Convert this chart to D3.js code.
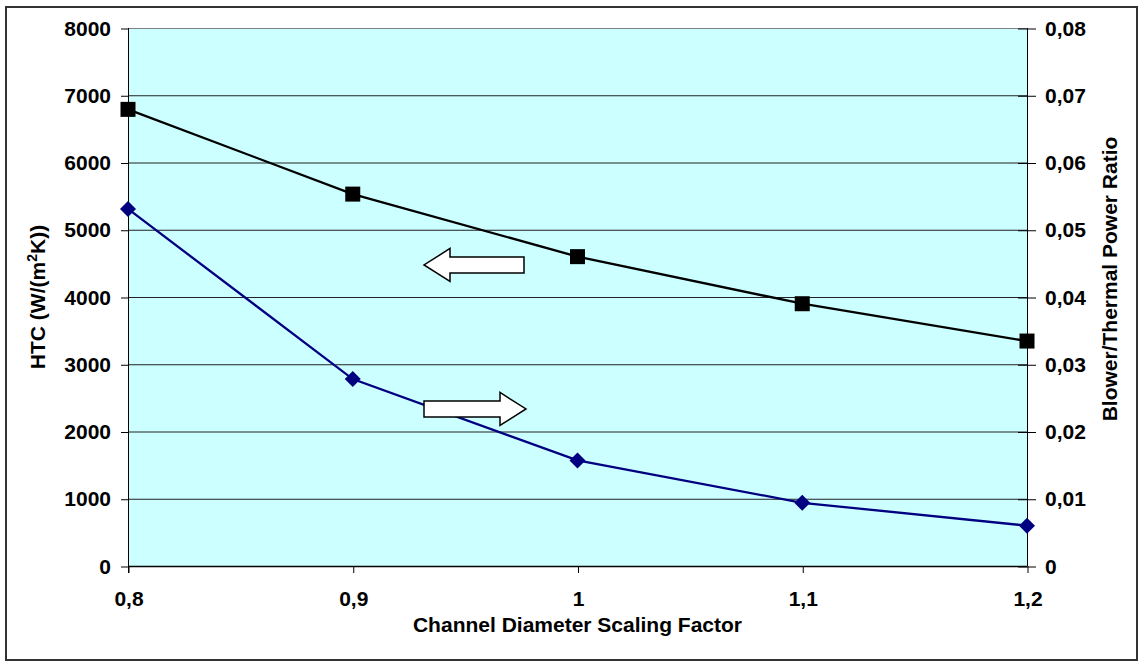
<!DOCTYPE html>
<html>
<head>
<meta charset="utf-8">
<script src="https://cdn.jsdelivr.net/npm/d3@7/dist/d3.min.js"></script>
<style>
  html, body { margin: 0; padding: 0; background: #fff; }
  svg text { font-family: "Liberation Sans", Arial, sans-serif; font-weight: bold; fill: #000; }
</style>
</head>
<body>
<svg id="chart" width="1143" height="663"></svg>
<script>
// Channel diameter scaling factors (x)
const scaleFactors = [0.8, 0.9, 1.0, 1.1, 1.2];
// Heat transfer coefficient, W/(m²K) — left axis
const htcValues = [6790, 5530, 4600, 3900, 3345];
// Blower / thermal power ratio — right axis
const powerRatio = [0.0531, 0.0278, 0.0157, 0.0094, 0.0060];

const xTicks = [0.8, 0.9, 1.0, 1.1, 1.2];
const leftTicks = [0, 1000, 2000, 3000, 4000, 5000, 6000, 7000, 8000];
const rightTicks = [0, 0.01, 0.02, 0.03, 0.04, 0.05, 0.06, 0.07, 0.08];

const FS = "21px";
const svg = d3.select("#chart");
const plot = { left: 128, right: 1027, top: 28, bottom: 566 };

const x = d3.scaleLinear().domain([0.8, 1.2]).range([plot.left, plot.right]);
const yL = d3.scaleLinear().domain([0, 8000]).range([plot.bottom, plot.top]);
const yR = d3.scaleLinear().domain([0, 0.08]).range([plot.bottom, plot.top]);

const commaFmt = v => d3.format("")(+v.toFixed(2)).replace(".", ",");

// Outer chart frame
svg.append("rect")
  .attr("x", 6).attr("y", 7).attr("width", 1131).attr("height", 653)
  .attr("fill", "#fff").attr("stroke", "#333").attr("stroke-width", 2);

// Plot area background
svg.append("rect")
  .attr("x", plot.left).attr("y", plot.top)
  .attr("width", plot.right - plot.left).attr("height", plot.bottom - plot.top)
  .attr("fill", "#CCFFFF");

// Horizontal gridlines
svg.append("g").selectAll("line").data(leftTicks.filter(d => d > 0)).join("line")
  .attr("x1", plot.left).attr("x2", plot.right)
  .attr("y1", d => yL(d) + 0.5).attr("y2", d => yL(d) + 0.5)
  .attr("stroke", d => d === 8000 ? "#808080" : "#222").attr("stroke-width", 1);

// Left axis
const leftAxis = d3.axisLeft(yL).tickValues(leftTicks).tickSize(7).tickPadding(10)
  .tickFormat(d3.format("d"));
const gL = svg.append("g").attr("transform", `translate(${plot.left},0.5)`).call(leftAxis);
gL.select(".domain").remove();
gL.selectAll("line").attr("stroke", "#000");
gL.selectAll("text").style("font-size", FS);
svg.append("line").attr("x1", plot.left + 0.5).attr("x2", plot.left + 0.5)
  .attr("y1", plot.top).attr("y2", plot.bottom + 7).attr("stroke", "#000");

// Right axis (ticks cross the axis line)
const rightAxis = d3.axisRight(yR).tickValues(rightTicks).tickSize(9).tickPadding(9)
  .tickFormat(commaFmt);
const gR = svg.append("g").attr("transform", `translate(${plot.right},0.5)`).call(rightAxis);
gR.select(".domain").remove();
gR.selectAll(".tick line").attr("x1", -9).attr("stroke", "#000");
gR.selectAll("text").style("font-size", FS);
svg.append("line").attr("x1", plot.right + 0.5).attr("x2", plot.right + 0.5)
  .attr("y1", plot.top).attr("y2", plot.bottom).attr("stroke", "#000");

// Bottom axis
const bottomAxis = d3.axisBottom(x).tickValues(xTicks).tickSize(7).tickPadding(18)
  .tickFormat(commaFmt);
const gB = svg.append("g").attr("transform", `translate(0.5,${plot.bottom})`).call(bottomAxis);
gB.select(".domain").remove();
gB.selectAll("line").attr("stroke", "#000");
gB.selectAll("text").style("font-size", FS);
svg.append("line").attr("x1", plot.left).attr("x2", plot.right)
  .attr("y1", plot.bottom + 0.5).attr("y2", plot.bottom + 0.5).attr("stroke", "#000").attr("stroke-width", 1.5);

// Direction arrows pointing to the relevant axis
function arrowPath(x0, x1, yc, dir) {
  // x0: tail end, x1: tip; dir: -1 left, 1 right
  const bodyH = 8, headH = 16.5, headL = 26;
  const hb = x1 - dir * headL;
  return `M${x0},${yc - bodyH} L${hb},${yc - bodyH} L${hb},${yc - headH} L${x1},${yc}
          L${hb},${yc + headH} L${hb},${yc + bodyH} L${x0},${yc + bodyH} Z`;
}
svg.append("path")
  .attr("d", arrowPath(x(1.0) - 53.5, x(1.0) - 153.5, yL(4476), -1))
  .attr("fill", "#fff").attr("stroke", "#000").attr("stroke-width", 1.5);

// Series lines
const lineL = d3.line().x((d, i) => x(scaleFactors[i])).y(d => yL(d));
const lineR = d3.line().x((d, i) => x(scaleFactors[i])).y(d => yR(d));

svg.append("path").datum(powerRatio).attr("d", lineR)
  .attr("fill", "none").attr("stroke", "#000080").attr("stroke-width", 2.3);

svg.append("path")
  .attr("d", arrowPath(x(1.0) - 153.5, x(1.0) - 51.5, yR(0.02335), 1))
  .attr("fill", "#fff").attr("stroke", "#000").attr("stroke-width", 1.5);

svg.append("path").datum(htcValues).attr("d", lineL)
  .attr("fill", "none").attr("stroke", "#000").attr("stroke-width", 2.3);

// Markers
svg.append("g").selectAll("rect").data(htcValues).join("rect")
  .attr("x", (d, i) => x(scaleFactors[i]) - 7.5).attr("y", d => yL(d) - 7.5)
  .attr("width", 15).attr("height", 15).attr("fill", "#000");

svg.append("g").selectAll("path").data(powerRatio).join("path")
  .attr("transform", (d, i) => `translate(${x(scaleFactors[i])},${yR(d)})`)
  .attr("d", "M0,-8 L8,0 L0,8 L-8,0 Z").attr("fill", "#000080");

// Axis titles
svg.append("text").attr("x", x(1.0)).attr("y", 632).attr("text-anchor", "middle")
  .style("font-size", FS).text("Channel Diameter Scaling Factor");

const tl = svg.append("text")
  .attr("transform", `translate(45,${(plot.top + plot.bottom) / 2}) rotate(-90)`)
  .attr("text-anchor", "middle").style("font-size", FS);
tl.append("tspan").text("HTC (W/(m");
tl.append("tspan").attr("dy", -8).style("font-size", "14px").text("2");
tl.append("tspan").attr("dy", 8).text("K))");

svg.append("text")
  .attr("transform", `translate(1117,279) rotate(-90)`)
  .attr("text-anchor", "middle").style("font-size", FS).text("Blower/Thermal Power Ratio");
</script>
</body>
</html>
